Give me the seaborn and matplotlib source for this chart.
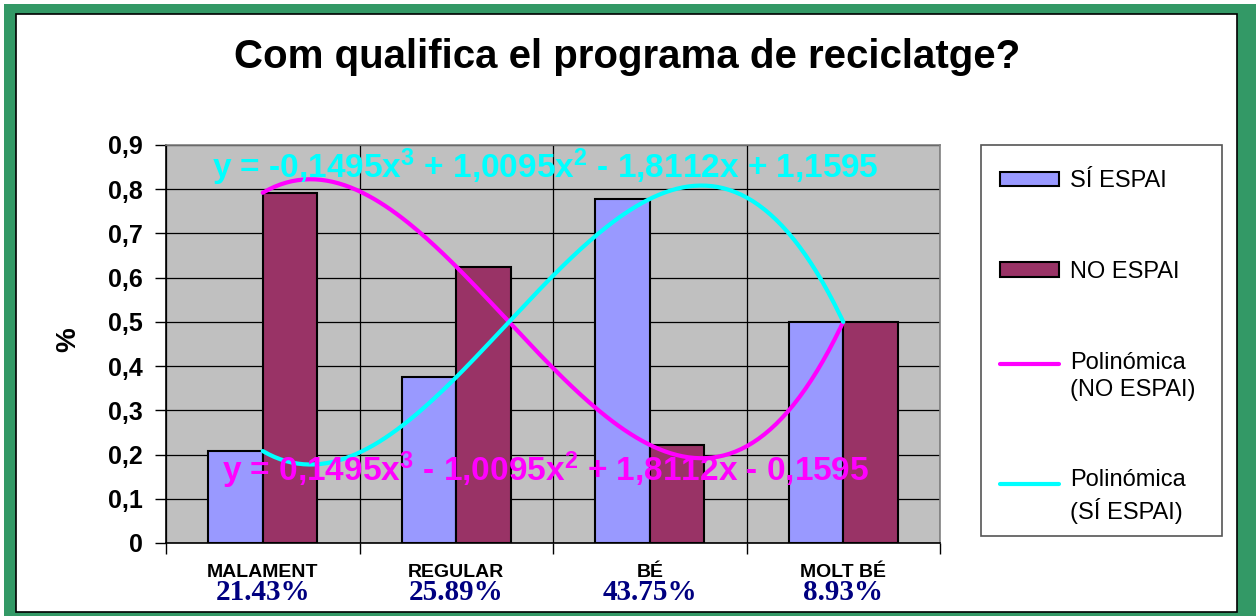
import matplotlib
matplotlib.use("Agg")
import matplotlib.pyplot as plt
import numpy as np
import pandas as pd
import seaborn as sns
from matplotlib.patches import Rectangle, Patch
from matplotlib.lines import Line2D

# ----- data -----
categories = ["MALAMENT", "REGULAR", "BÉ", "MOLT BÉ"]
category_share = ["21.43%", "25.89%", "43.75%", "8.93%"]
series_names = ["SÍ ESPAI", "NO ESPAI"]
si_espai = [0.208, 0.375, 0.778, 0.5]
no_espai = [0.792, 0.625, 0.222, 0.5]
yticks = [0, 0.1, 0.2, 0.3, 0.4, 0.5, 0.6, 0.7, 0.8, 0.9]
ytick_labels = ["0", "0,1", "0,2", "0,3", "0,4", "0,5", "0,6", "0,7", "0,8", "0,9"]
eq_si = "y = -0,1495x$^3$ + 1,0095x$^2$ - 1,8112x + 1,1595"
eq_no = "y = 0,1495x$^3$ - 1,0095x$^2$ + 1,8112x - 0,1595"
legend_labels = ["SÍ ESPAI", "NO ESPAI", "Polinómica\n(NO ESPAI)", "Polinómica\n(SÍ ESPAI)"]

BLUE, MAROON = "#9999FF", "#993366"
MAGENTA, CYAN = "#FF00FF", "#00FFFF"

W, H = 1256, 616
sns.set_theme(style="white")
plt.rcParams["font.family"] = ["Liberation Sans", "DejaVu Sans"]
plt.rcParams.update({"text.color": "black", "xtick.color": "black", "ytick.color": "black",
                     "axes.labelcolor": "black",
                     "mathtext.fontset": "custom",
                     "mathtext.rm": "Liberation Sans:bold",
                     "mathtext.it": "Liberation Sans:bold",
                     "mathtext.bf": "Liberation Sans:bold"})

fig = plt.figure(figsize=(W / 100, H / 100), dpi=100)
fig.patch.set_facecolor("white")


def box(x0, y0, x1, y1):
    # pixel box (top-left origin) -> figure fraction [left, bottom, width, height]
    return [x0 / W, 1 - y1 / H, (x1 - x0) / W, (y1 - y0) / H]


# green frame and white panel
fig.patches.append(Rectangle((4 / W, 0), 1 - 4 / W, 1 - 4 / H, transform=fig.transFigure,
                             facecolor="#339966", edgecolor="none", zorder=-3))
b = box(16, 14, 1237, 612)
fig.patches.append(Rectangle((b[0], b[1]), b[2], b[3], transform=fig.transFigure,
                             facecolor="white", edgecolor="black", linewidth=1.2, zorder=-2))
# legend frame
b = box(981, 145, 1222, 536)
fig.patches.append(Rectangle((b[0], b[1]), b[2], b[3], transform=fig.transFigure,
                             facecolor="white", edgecolor="#555555", linewidth=1.2, zorder=-1))

ax = fig.add_axes(box(166, 145, 940, 543))
ax.set_facecolor("#C0C0C0")

df = pd.DataFrame({
    "categoria": categories * 2,
    "valor": si_espai + no_espai,
    "serie": [series_names[0]] * 4 + [series_names[1]] * 4,
})
sns.barplot(data=df, x="categoria", y="valor", hue="serie", order=categories,
            hue_order=series_names, palette=[BLUE, MAROON], width=0.565, saturation=1,
            edgecolor="black", linewidth=1.5, legend=False, ax=ax, zorder=3)

# cubic trend lines (Excel "Polinómica")
xs = np.arange(1, 5)
xfine = np.linspace(1, 4, 200)
fit_no = np.polyval(np.polyfit(xs, no_espai, 3), xfine)
fit_si = np.polyval(np.polyfit(xs, si_espai, 3), xfine)
ax.plot(xfine - 1, fit_no, color=MAGENTA, lw=3, zorder=4)
ax.plot(xfine - 1, fit_si, color=CYAN, lw=3, zorder=5)

ax.text(-0.262, 0.85, eq_si, color=CYAN, fontsize=24, fontweight="bold", va="center", ha="left", zorder=6)
ax.text(-0.21, 0.165, eq_no, color=MAGENTA, fontsize=24, fontweight="bold", va="center", ha="left", zorder=6)

ax.set_xlim(-0.5, 3.5)
ax.set_ylim(0, 0.9)
ax.set_axisbelow(True)
ax.set_yticks(yticks)
ax.set_yticklabels(ytick_labels, fontsize=18, fontweight="bold")
ax.set_xticks(range(len(categories)))
ax.set_xticklabels(categories, fontsize=14, fontweight="bold")
ax.set_xticks(np.arange(-0.5, 4), minor=True)
ax.yaxis.grid(True, color="black", lw=0.9)
ax.xaxis.grid(True, which="minor", color="black", lw=0.9)
ax.xaxis.grid(False, which="major")
ax.tick_params(axis="y", left=True, length=8, width=1, direction="out", pad=9)
ax.tick_params(axis="x", which="major", bottom=True, length=0, pad=15)
ax.tick_params(axis="x", which="minor", bottom=True, length=8, width=1, direction="out")
ax.set_xlabel("")
ax.set_ylabel("")
for side in ["left", "bottom"]:
    ax.spines[side].set_color("black")
    ax.spines[side].set_linewidth(1.2)
for side in ["top", "right"]:
    ax.spines[side].set_color("#808080")
    ax.spines[side].set_linewidth(1.2)

for i, share in enumerate(category_share):
    ax.text(i, -0.125, share, transform=ax.get_xaxis_transform(), ha="center", va="center",
            fontsize=21, fontweight="bold", color="#000080",
            family=["Liberation Serif", "DejaVu Serif"])

fig.text(68 / W, 1 - 340 / H, "%", rotation=90, fontsize=20, fontweight="bold", ha="center", va="center")
fig.text(627 / W, 1 - 57 / H, "Com qualifica el programa de reciclatge?", fontsize=29,
         fontweight="bold", ha="center", va="center")

handles = [
    Patch(facecolor=BLUE, edgecolor="black", linewidth=1.5),
    Patch(facecolor=MAROON, edgecolor="black", linewidth=1.5),
    Line2D([], [], color=MAGENTA, lw=3),
    Line2D([], [], color=CYAN, lw=3),
]
leg = fig.legend(handles, legend_labels, loc="upper left", bbox_to_anchor=(979 / W, 1 - 149 / H),
                 frameon=False, fontsize=17, labelspacing=2.91, handlelength=2.5, handleheight=0.55,
                 handletextpad=0.45, borderpad=0.4)
for t in leg.get_texts():
    t.set_linespacing(1.3)
# line handles sit next to the first line of their two-line labels, as in Excel
for h in leg.legend_handles[2:]:
    h.set_ydata(np.asarray(h.get_ydata()) + 9.7)

fig.savefig("out.png", dpi=100, facecolor="white")
